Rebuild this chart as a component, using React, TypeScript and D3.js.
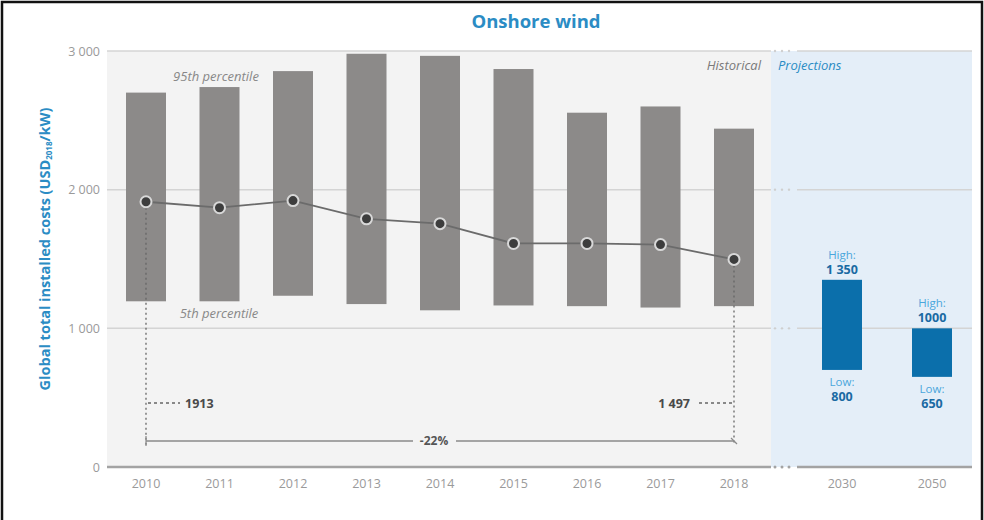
import React from "react";
import * as d3 from "d3";

const years = ["2010", "2011", "2012", "2013", "2014", "2015", "2016", "2017", "2018"];
const p95 = [2700, 2740, 2855, 2980, 2965, 2870, 2555, 2600, 2440];
const p5 = [1195, 1195, 1235, 1175, 1130, 1165, 1160, 1150, 1160];
const avg = [1913, 1870, 1921, 1790, 1755, 1612, 1612, 1604, 1497];
const projYears = ["2030", "2050"];
const projHigh = [1350, 1000];
const projLow = [700, 650];
const projHighLabels = ["1 350", "1000"];
const projLowLabels = ["800", "650"];
const yTicks = [0, 1000, 2000, 3000];
const yTickLabels = ["0", "1 000", "2 000", "3 000"];

const W = 984;
const H = 520;
const left = 107;
const splitX = 771;
const right = 972;

export default function App() {
  const y = d3.scaleLinear().domain([0, 3000]).range([467, 51]);
  const x = d3.scalePoint<string>().domain(years).range([146, 734]);
  const xp = d3.scalePoint<string>().domain(projYears).range([842, 932]);
  const bw = 40;
  const line = d3
    .line<number>()
    .x((_, i) => x(years[i]) as number)
    .y((d) => y(d));
  const font = "'Open Sans', 'DejaVu Sans', sans-serif";
  const blue = "#2b8cc4";
  const gray = "#9a9a9a";
  const x0 = x(years[0]) as number;
  const xN = x(years[years.length - 1]) as number;
  const first = avg[0];
  const last = avg[avg.length - 1];
  const change = Math.round(((last - first) / first) * 100);
  const y0 = y(0);

  const gapDots = (yy: number, color: string, r: number) =>
    [775, 782, 789].map((cx) => <circle key={cx} cx={cx} cy={yy} r={r} fill={color} />);

  return (
    <svg width={W} height={H} style={{ position: "absolute", left: 0, top: 0, fontFamily: font }}>
      <rect x={0} y={0} width={W} height={H} fill="#fff" />
      <rect x={2} y={2} width={980} height={540} fill="none" stroke="#111" strokeWidth={2.5} />
      <text x={536} y={28} textAnchor="middle" fontSize={18.5} fontWeight={700} fill={blue}>
        Onshore wind
      </text>
      <rect x={left} y={y(3000)} width={splitX - left} height={y0 - y(3000)} fill="#f3f3f3" />
      <rect x={splitX} y={y(3000)} width={right - splitX} height={y0 - y(3000)} fill="#e4eef8" />
      {yTicks.filter((t) => t > 0).map((t) => (
        <g key={t}>
          <line x1={left} x2={splitX} y1={y(t)} y2={y(t)} stroke="#d4d4d4" strokeWidth={1.5} />
          <line x1={797} x2={right} y1={y(t)} y2={y(t)} stroke="#d4d4d4" strokeWidth={1.5} />
          {gapDots(y(t), "#cfcfcf", 1.2)}
        </g>
      ))}
      <line x1={left} x2={splitX} y1={y0} y2={y0} stroke="#a3a3a3" strokeWidth={2.5} />
      <line x1={797} x2={right} y1={y0} y2={y0} stroke="#a3a3a3" strokeWidth={2.5} />
      {gapDots(y0, "#a3a3a3", 1.5)}
      {yTicks.map((t, i) => (
        <text key={t} x={100} y={y(t) + 4.5} textAnchor="end" fontSize={12.5} fill={gray}>
          {yTickLabels[i]}
        </text>
      ))}
      <text
        transform={`translate(50,249) rotate(-90)`}
        textAnchor="middle"
        fontSize={14.5}
        fontWeight={700}
        fill={blue}
      >
        Global total installed costs (USD
        <tspan fontSize={8} dy={2}>2018</tspan>
        <tspan dy={-2}>/kW)</tspan>
      </text>
      {years.map((yr, i) => (
        <rect
          key={yr}
          x={(x(yr) as number) - bw / 2}
          y={y(p95[i])}
          width={bw}
          height={y(p5[i]) - y(p95[i])}
          fill="#8c8a89"
        />
      ))}
      {years.map((yr) => (
        <text key={yr} x={x(yr)} y={488} textAnchor="middle" fontSize={12.5} fill={gray}>
          {yr}
        </text>
      ))}
      {projYears.map((yr, i) => (
        <g key={yr}>
          <rect
            x={(xp(yr) as number) - bw / 2}
            y={y(projHigh[i])}
            width={bw}
            height={y(projLow[i]) - y(projHigh[i])}
            fill="#0b6fab"
          />
          <text x={xp(yr)} y={488} textAnchor="middle" fontSize={12.5} fill={gray}>
            {yr}
          </text>
          <text x={xp(yr)} y={y(projHigh[i]) - 21} textAnchor="middle" fontSize={11.5} fill="#4aa6dc">
            High:
          </text>
          <text x={xp(yr)} y={y(projHigh[i]) - 6} textAnchor="middle" fontSize={12.5} fontWeight={700} fill="#1a6aa3">
            {projHighLabels[i]}
          </text>
          <text x={xp(yr)} y={y(projLow[i]) + 16} textAnchor="middle" fontSize={11.5} fill="#4aa6dc">
            Low:
          </text>
          <text x={xp(yr)} y={y(projLow[i]) + 31} textAnchor="middle" fontSize={12.5} fontWeight={700} fill="#1a6aa3">
            {projLowLabels[i]}
          </text>
        </g>
      ))}
      <text x={216} y={81} textAnchor="middle" fontSize={13} fontStyle="italic" fill="#888">
        95th percentile
      </text>
      <text x={219} y={318} textAnchor="middle" fontSize={13} fontStyle="italic" fill="#888">
        5th percentile
      </text>
      <text x={761} y={70} textAnchor="end" fontSize={13} fontStyle="italic" fill="#7a7a7a">
        Historical
      </text>
      <text x={778} y={70} textAnchor="start" fontSize={13} fontStyle="italic" fill={blue}>
        Projections
      </text>
      {/* annotation lines */}
      <line x1={x0} x2={x0} y1={y(first) + 6} y2={445} stroke="#666" strokeWidth={1.3} strokeDasharray="2,3" />
      <line x1={xN} x2={xN} y1={y(last) + 6} y2={445} stroke="#666" strokeWidth={1.3} strokeDasharray="2,3" />
      <line x1={x0 + 2} x2={x0 + 34} y1={403} y2={403} stroke="#666" strokeWidth={1.3} strokeDasharray="3,3" />
      <text x={185} y={408} fontSize={12.5} fontWeight={700} fill="#4a4a4a">1913</text>
      <line x1={xN - 35} x2={xN - 2} y1={403} y2={403} stroke="#666" strokeWidth={1.3} strokeDasharray="3,3" />
      <text x={690} y={408} textAnchor="end" fontSize={12.5} fontWeight={700} fill="#4a4a4a">1 497</text>
      <line x1={x0} x2={413} y1={441} y2={441} stroke="#8a8a8a" strokeWidth={1.5} />
      <line x1={456} x2={xN} y1={441} y2={441} stroke="#8a8a8a" strokeWidth={1.5} />
      <line x1={x0} x2={x0} y1={436} y2={446} stroke="#8a8a8a" strokeWidth={1.2} />
      <line x1={xN - 3} x2={xN + 3} y1={438} y2={444} stroke="#8a8a8a" strokeWidth={1.2} />
      <text x={434} y={445} textAnchor="middle" fontSize={12} fontWeight={700} fill="#555">
        {`${change}%`}
      </text>
      <path d={line(avg) as string} fill="none" stroke="#6b6b6b" strokeWidth={1.8} />
      {avg.map((v, i) => (
        <circle key={i} cx={x(years[i])} cy={y(v)} r={5.5} fill="#3d3d3d" stroke="#d8d8d8" strokeWidth={2} />
      ))}
    </svg>
  );
}
